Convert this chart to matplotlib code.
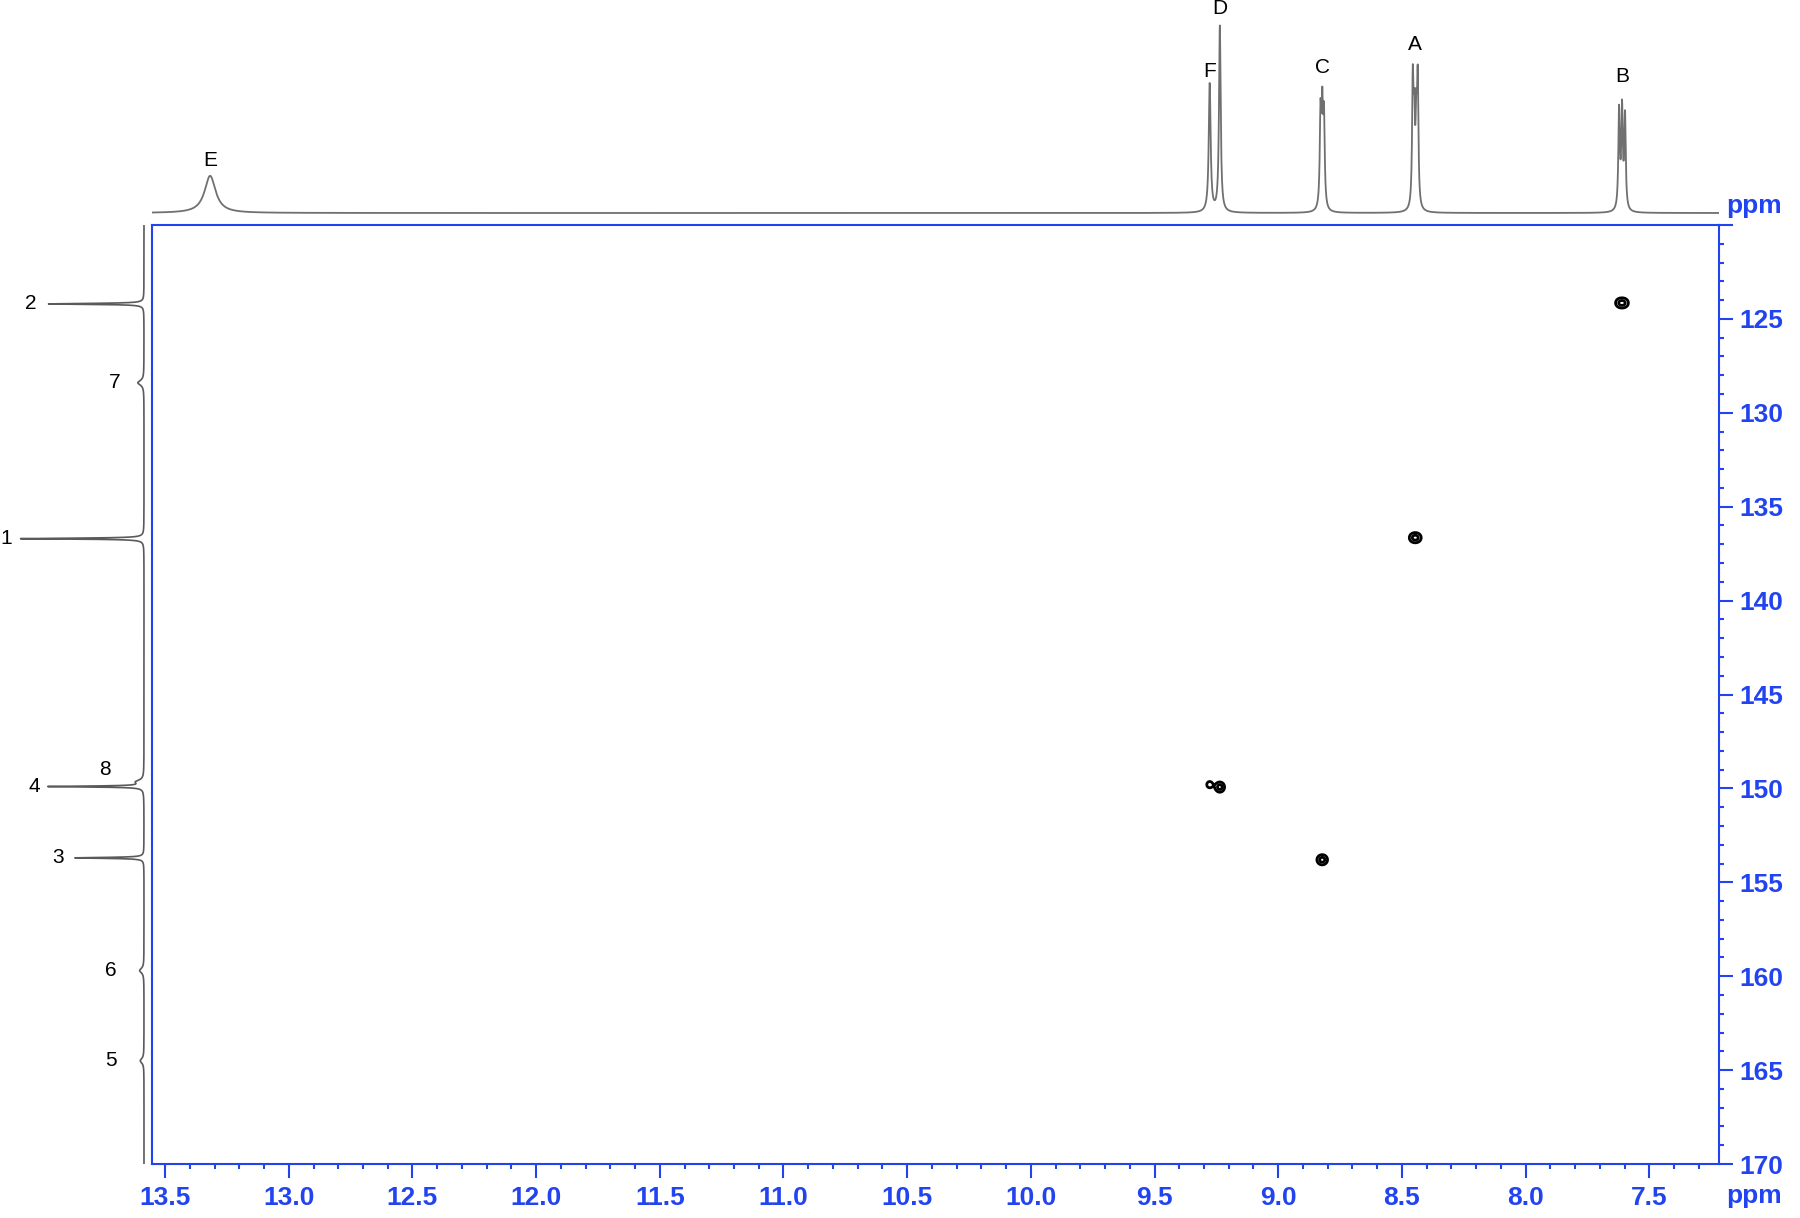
#!/usr/bin/env python3
"""HSQC-style 2D spectrum with 1H projection on top and 13C trace on the left."""

import numpy as np
import matplotlib.pyplot as plt
from matplotlib.ticker import MultipleLocator, FuncFormatter

plt.rcParams["font.family"] = ["Liberation Sans", "DejaVu Sans"]

BLUE = "#2244f0"
TRACE = "#707070"

# 1H lines (ppm, relative height, half width) and the signal they belong to
H_LINE_PPM = [13.318, 9.277, 9.236, 8.829, 8.822, 8.815,
              8.456, 8.450, 8.442, 8.436, 7.622, 7.610, 7.598]
H_LINE_HEIGHT = [0.20, 0.69, 1.00, 0.49, 0.49, 0.47,
                 0.66, 0.42, 0.42, 0.66, 0.53, 0.53, 0.50]
H_LINE_HWHM = [0.027, 0.0045, 0.004, 0.0035, 0.0035, 0.0035,
               0.0033, 0.0033, 0.0033, 0.0033, 0.0035, 0.0035, 0.0035]
H_LINE_GROUP = ["E", "F", "D", "C", "C", "C",
                "A", "A", "A", "A", "B", "B", "B"]

H_LABELS = ["E", "F", "D", "C", "A", "B"]
H_LABEL_PPM = [13.318, 9.277, 9.236, 8.822, 8.446, 7.610]

# 13C peaks
C_LABELS = ["1", "2", "3", "4", "5", "6", "7", "8"]
C_PPM = [136.7, 124.2, 153.7, 149.9, 164.5, 159.7, 128.4, 149.65]
C_HEIGHT = [1.00, 0.77, 0.56, 0.77, 0.03, 0.035, 0.05, 0.06]
C_HWHM = [0.03, 0.03, 0.03, 0.03, 0.15, 0.15, 0.15, 0.12]

# cross peaks: proton signal, carbon shift, relative intensity
XPEAK_GROUP = ["B", "A", "F", "D", "C"]
XPEAK_C_PPM = [124.15, 136.65, 149.8, 149.93, 153.8]
XPEAK_AMP = [1.0, 1.0, 0.45, 1.0, 1.0]

X_LIM = (13.553, 7.218)
Y_LIM = (170, 120)


def lorentz(x, x0, hwhm):
    return 1.0 / (1.0 + ((x - x0) / hwhm) ** 2)


def main():
    fig = plt.figure(figsize=(18, 12.18), dpi=100, facecolor="white")
    W, H = 1800.0, 1218.0

    # main 2D axes (pixel box 152..1719 x 225..1164)
    ax = fig.add_axes([152 / W, 1 - 1164 / H, (1719 - 152) / W, (1164 - 225) / H])
    ax_top = fig.add_axes([152 / W, 1 - 225 / H, (1719 - 152) / W, 225 / H], sharex=ax)
    ax_left = fig.add_axes([0, 1 - 1164 / H, 152 / W, (1164 - 225) / H], sharey=ax)

    # --- 1H projection
    xh = np.linspace(X_LIM[0], X_LIM[1], 8000)
    yh = np.zeros_like(xh)
    for p, h, w in zip(H_LINE_PPM, H_LINE_HEIGHT, H_LINE_HWHM):
        yh += h * lorentz(xh, p, w)
    ax_top.plot(xh, yh, color=TRACE, lw=1.3)
    ax_top.set_ylim(-12 / 186, 213 / 186)
    ax_top.axis("off")

    h_gap_px = {"E": 10, "F": 6, "D": 11, "C": 14, "A": 14, "B": 17}
    for lab, p in zip(H_LABELS, H_LABEL_PPM):
        m = np.abs(xh - p) < 0.02
        tip = yh[m].max()
        ax_top.annotate(lab, xy=(p, tip), xytext=(0, h_gap_px[lab] / 1.389),
                        textcoords="offset points", ha="center", va="baseline",
                        fontsize=15, color="black", annotation_clip=False)

    # --- 13C trace on the left
    yc = np.linspace(120, 170, 8000)
    xc = np.zeros_like(yc)
    for p, h, w in zip(C_PPM, C_HEIGHT, C_HWHM):
        xc += h * lorentz(yc, p, w)
    ax_left.plot(xc, yc, color="#5a5a5a", lw=1.2)
    ax_left.set_xlim(144 / 124, -8 / 124)
    ax_left.axis("off")

    c_off_px = {"1": (-14, 0), "2": (-18, 0), "3": (-17, 0), "4": (-13, 0),
                "5": (-29, 0), "6": (-29, 0), "7": (-23, 0), "8": (-14, 12)}
    for lab, p in zip(C_LABELS, C_PPM):
        m = np.abs(yc - p) < 0.2
        tip = xc[m].max()
        dx, dy = c_off_px[lab]
        ax_left.annotate(lab, xy=(tip, p), xytext=(dx / 1.389, dy / 1.389),
                         textcoords="offset points", ha="center", va="center",
                         fontsize=15, color="black", annotation_clip=False)

    # --- cross peaks as contours
    gx = np.arange(7.45, 9.45, 0.001)
    gy = np.arange(121.0, 157.0, 0.02)
    sig_x, sig_y = 0.012, 0.17
    Z = np.zeros((gy.size, gx.size))
    for grp, cp, amp in zip(XPEAK_GROUP, XPEAK_C_PPM, XPEAK_AMP):
        zk = np.zeros_like(Z)
        fy = np.exp(-0.5 * ((gy - cp) / sig_y) ** 2)
        for p, h, g in zip(H_LINE_PPM, H_LINE_HEIGHT, H_LINE_GROUP):
            if g != grp:
                continue
            fx = np.exp(-0.5 * ((gx - p) / sig_x) ** 2)
            zk += h * np.outer(fy, fx)
        Z += amp * zk / zk.max()
    ax.contour(gx, gy, Z, levels=[0.28, 0.75], colors="black", linewidths=2.0)

    # --- axes styling
    ax.set_xlim(*X_LIM)
    ax.set_ylim(*Y_LIM)
    for s in ax.spines.values():
        s.set_color(BLUE)
        s.set_linewidth(1.5)
    ax.xaxis.set_major_locator(MultipleLocator(0.5))
    ax.xaxis.set_minor_locator(MultipleLocator(0.1))
    ax.yaxis.set_major_locator(MultipleLocator(5))
    ax.yaxis.set_minor_locator(MultipleLocator(1))
    ax.xaxis.set_major_formatter(FuncFormatter(lambda v, _: f"{v:.1f}"))
    ax.yaxis.set_major_formatter(FuncFormatter(lambda v, _: "" if v < 122 else f"{v:.0f}"))
    ax.yaxis.tick_right()
    ax.xaxis.tick_bottom()
    ax.tick_params(which="both", direction="out", color=BLUE, width=1.5,
                   labelcolor=BLUE, labelsize=19)
    ax.tick_params(which="major", length=10)
    ax.tick_params(which="minor", length=3.5)
    ax.tick_params(axis="x", which="major", pad=6)
    ax.tick_params(axis="y", which="major", pad=5)
    for t in ax.get_xticklabels() + ax.get_yticklabels():
        t.set_fontweight("bold")

    fig.text(1726 / W, 1 - 213 / H, "ppm", ha="left", va="baseline",
             fontsize=19, fontweight="bold", color=BLUE)
    fig.text(1726 / W, 1 - 1203 / H, "ppm", ha="left", va="baseline",
             fontsize=19, fontweight="bold", color=BLUE)

    fig.savefig("out.png", dpi=100, facecolor="white")
    plt.close(fig)


if __name__ == "__main__":
    main()
